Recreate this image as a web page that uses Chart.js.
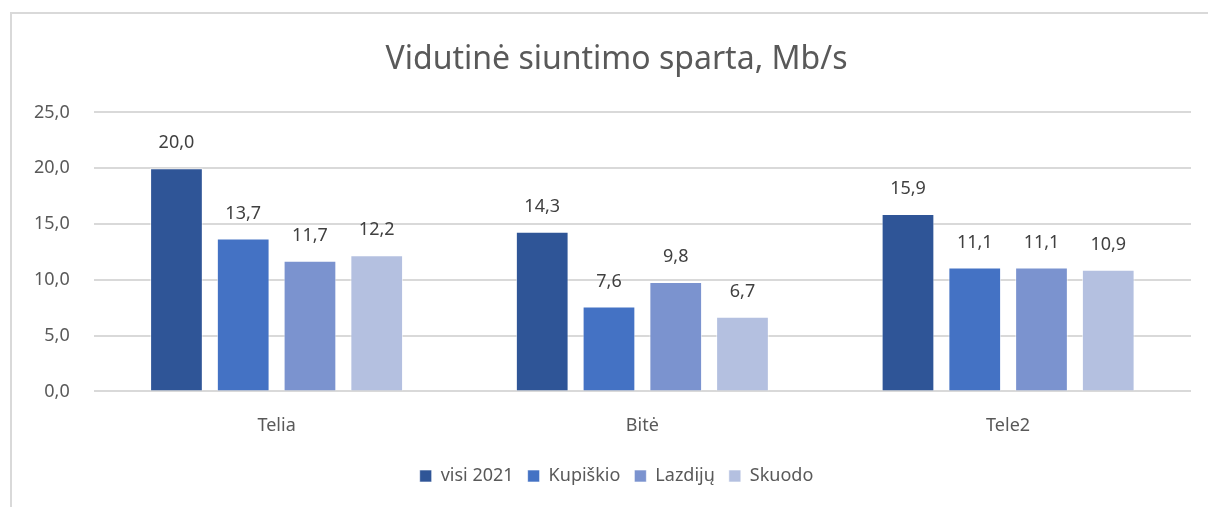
<!DOCTYPE html>
<html>
<head>
<meta charset="utf-8">
<script src="https://cdn.jsdelivr.net/npm/chart.js@4"></script>
<style>
  html, body { margin: 0; padding: 0; background: #fff; overflow: hidden; }
  #frame {
    position: absolute; left: 10px; top: 12px; width: 1220px; height: 520px;
    border: 2px solid #d9d9d9; box-sizing: border-box;
  }
  #wrap { position: absolute; left: 0; top: 0; width: 1208px; height: 507px; }
</style>
</head>
<body>
<div id="frame"></div>
<div id="wrap"><canvas id="myBarChart"></canvas></div>
<script>
// Data
const operators = ['Telia', 'Bitė', 'Tele2'];
const visi2021 = [20.0, 14.3, 15.9];
const kupiskio = [13.7, 7.6, 11.1];
const lazdiju = [11.7, 9.8, 11.1];
const skuodo = [12.2, 6.7, 10.9];
const yTicks = [0, 5, 10, 15, 20, 25];

const FONT = "'Noto Sans', sans-serif";

function fmt(v) {
  return v.toFixed(1).replace('.', ',');
}

// draws the value above every bar
const valueLabels = {
  id: 'valueLabels',
  afterDatasetsDraw(chart) {
    const c = chart.ctx;
    c.save();
    c.font = '18px ' + FONT;
    c.fillStyle = '#404040';
    c.textAlign = 'center';
    c.textBaseline = 'middle';
    chart.data.datasets.forEach((ds, i) => {
      chart.getDatasetMeta(i).data.forEach((bar, j) => {
        c.fillText(fmt(ds.data[j]), bar.x, bar.y - 25);
      });
    });
    c.restore();
  }
};

// title and legend are centred on the outer frame, not the canvas
const frameCenter = {
  id: 'frameCenter',
  afterLayout(chart) {
    [chart.titleBlock, chart.legend].forEach(box => {
      box.left += 16;
      box.right += 16;
    });
  }
};

const ctx = document.getElementById('myBarChart').getContext('2d');

let myBarChart = new Chart(ctx, {
  type: 'bar',
  data: {
    labels: operators,
    datasets: [
      { label: 'visi 2021', data: visi2021, backgroundColor: '#2f5597' },
      { label: 'Kupiškio', data: kupiskio, backgroundColor: '#4472c4' },
      { label: 'Lazdijų', data: lazdiju, backgroundColor: '#7b93cf' },
      { label: 'Skuodo', data: skuodo, backgroundColor: '#b4c0e0' }
    ]
  },
  options: {
    responsive: true,
    maintainAspectRatio: false,
    animation: false,
    datasets: {
      bar: {
        categoryPercentage: 0.73,
        barPercentage: 0.79,
        borderWidth: 1,
        borderColor: 'rgba(255,255,255,0.6)'
      }
    },
    scales: {
      x: {
        grid: { display: false },
        border: { display: false },
        ticks: { color: '#595959', font: { family: FONT, size: 18 }, padding: 16 }
      },
      y: {
        min: 0,
        max: 25,
        afterBuildTicks(axis) {
          axis.ticks = yTicks.map(v => ({ value: v }));
        },
        grid: { color: '#d9d9d9', lineWidth: 2, drawTicks: false },
        border: { display: false },
        ticks: {
          color: '#595959',
          font: { family: FONT, size: 18 },
          padding: 24,
          callback: v => fmt(v)
        }
      }
    },
    plugins: {
      title: {
        display: true,
        text: 'Vidutinė siuntimo sparta, Mb/s',
        color: '#595959',
        font: { family: FONT, size: 32, weight: 'normal' },
        padding: { top: 29, bottom: 33 }
      },
      legend: {
        position: 'bottom',
        labels: {
          color: '#595959',
          font: { family: FONT, size: 18 },
          boxWidth: 12,
          boxHeight: 12,
          padding: 14
        }
      },
      tooltip: { enabled: false }
    },
    layout: {
      padding: { left: 10, right: 17, top: 12, bottom: 12 }
    }
  },
  plugins: [valueLabels, frameCenter]
});
</script>
</body>
</html>
